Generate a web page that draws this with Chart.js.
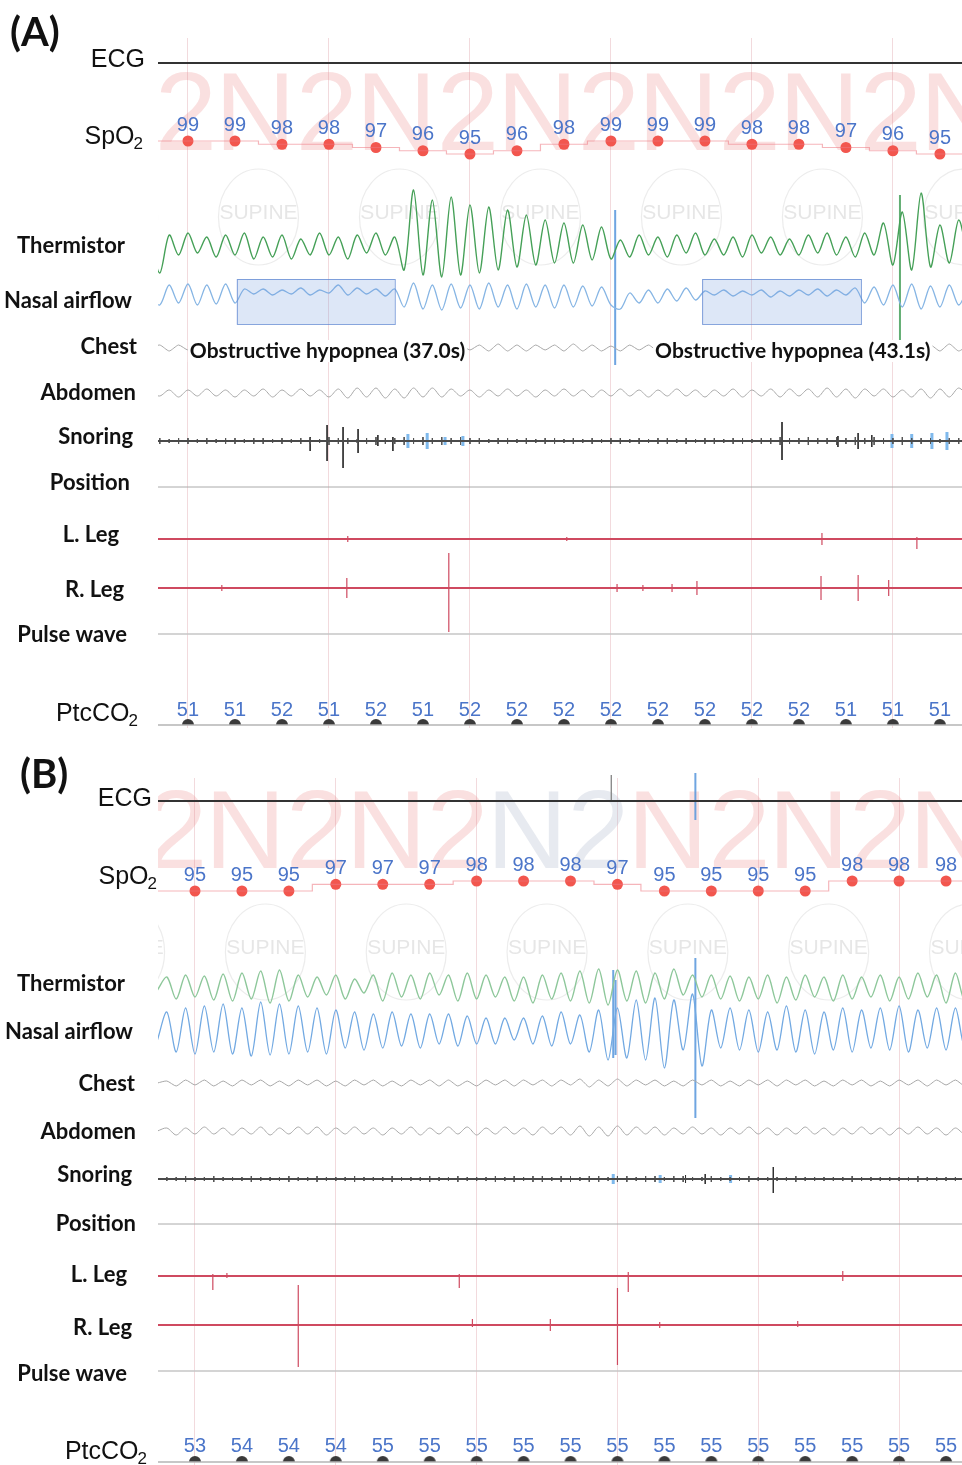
<!DOCTYPE html>
<html>
<head>
<meta charset="utf-8">
<script src="https://cdn.jsdelivr.net/npm/chart.js@4.4.1/dist/chart.umd.min.js"></script>
<style>
  body { margin: 0; background: #fff; }
  #page { position: relative; width: 962px; height: 1465px; overflow: hidden; }
  .panel { position: absolute; left: 0; width: 962px; }
  .tag { position: absolute; font: bold 40px Lato, sans-serif; color: #111; }
</style>
</head>
<body>
<div id="page">
  <div class="panel" style="top:0;height:740px"><canvas id="panelA"></canvas></div>
  <div class="panel" style="top:740px;height:725px"><canvas id="panelB"></canvas></div>
  <div class="tag" style="left:10px;top:7px">(A)</div>
  <div class="tag" style="left:20px;top:749px">(B)</div>
</div>
<script>
// traced channels are sampled every 2 s starting at -8 s
const SAMPLE_T0 = -8;
const SAMPLE_DT = 2;

const channelNames = ['ECG', 'SpO₂', 'Thermistor', 'Nasal airflow', 'Chest', 'Abdomen',
  'Snoring', 'Position', 'L. Leg', 'R. Leg', 'Pulse wave', 'PtcCO₂'];

// numeric readings every 10 s, sleep epochs every 30 s
const readingTimes = [0, 10, 20, 30, 40, 50, 60, 70, 80, 90, 100, 110, 120, 130, 140, 150, 160];
const epochStarts = [-30, 0, 30, 60, 90, 120, 150];

// ---- panel A ----
const spo2A = [99, 99, 98, 98, 97, 96, 95, 96, 98, 99, 99, 99, 98, 98, 97, 96, 95];
const ptcco2A = [51, 51, 52, 51, 52, 51, 52, 52, 52, 52, 52, 52, 52, 52, 51, 51, 51];
const stagesA = ['N2', 'N2', 'N2', 'N2', 'N2', 'N2', 'N2'];
const positionsA = ['SUPINE', 'SUPINE', 'SUPINE', 'SUPINE', 'SUPINE', 'SUPINE', 'SUPINE'];
const thermA = [5, -28, 10, -10, 12, -8, 8, -12, 10, -10,
  12, -14, 8, -12, 10, -14, 6, -10, 12, -10,
  8, -14, 10, -8, 12, -10, 8, -25, 55, -30,
  45, -32, 48, -30, 40, -28, 38, -25, 35, -22,
  30, -20, 25, -18, 22, -18, 20, -15, 18, -14,
  5, -12, 10, -10, 8, -12, 10, -8, 12, -10,
  6, -10, 8, -12, 10, -8, 8, -10, 6, -10,
  10, -8, 12, -10, 8, -12, 12, -10, 22, -20,
  33, -25, 52, -22, 20, -18, 25, -15];
const nasalA = [0, -8, 12, -6, 13, -8, 12, -7, 13, -6,
  8, 3, 8, 2, 7, 3, 9, 2, 7, 4,
  12, 2, 9, 3, 8, 1, 8, -10, 14, -12,
  12, -13, 13, -11, 12, -12, 14, -10, 12, -12,
  13, -10, 12, -11, 12, -10, 11, -9, 10, -8,
  -12, 4, -6, 7, -6, 8, -4, 9, -3, 6,
  2, 7, 1, 6, 2, 7, 0, 6, 1, 7,
  2, 8, 1, 7, 2, 9, -6, 10, -8, 12,
  -10, 13, -12, 11, -10, 12, -8, 10];
const chestA = [0, 3, -3, 3, -2, 3, -3, 4, -3, 3,
  -3, 3, -2, 4, -3, 3, -3, 3, -3, 4,
  -2, 3, -3, 3, -4, 3, -3, 4, -3, 3,
  -3, 4, -3, 3, -2, 3, -3, 4, -3, 3,
  -3, 3, -2, 3, -3, 4, -3, 3, -3, 2,
  -3, 3, -2, 3, -3, 4, -3, 3, -2, 3,
  -3, 3, -3, 4, -3, 3, -3, 3, -2, 4,
  -3, 3, -3, 3, -3, 4, -2, 3, -3, 3,
  -3, 4, -3, 3, -3, 4, -3, 3];
const abdomenA = [0, -3, 3, -4, 3, -3, 4, -3, 3, -4,
  3, -3, 4, -4, 3, -3, 4, -3, 3, -4,
  4, -5, 5, -4, 5, -5, 4, -5, 5, -4,
  5, -4, 4, -3, 3, -4, 3, -3, 4, -3,
  3, -4, 3, -3, 4, -3, 3, -4, 3, -3,
  4, -3, 3, -4, 3, -3, 4, -3, 3, -4,
  3, -3, 4, -4, 3, -3, 4, -4, 4, -3,
  4, -4, 5, -4, 4, -5, 4, -3, 4, -4,
  3, -4, 4, -5, 4, -4, 5, -4];
const snoreA = [2, 3, 2, 3, 3, 2, 3, 2, 3, 3,
  2, 3, 3, 2, 3, 2, 3, 3, 2, 4,
  3, 3, 2, 3, 4, 3, 3, 4, 3, 4,
  3, 4, 3, 4, 3, 3, 2, 3, 3, 2,
  3, 2, 3, 3, 2, 3, 2, 3, 2, 3,
  3, 2, 3, 2, 3, 3, 2, 3, 2, 3,
  3, 2, 3, 3, 2, 3, 3, 4, 3, 3,
  4, 3, 3, 4, 3, 4, 3, 4, 3, 3,
  4, 3, 3, 3, 2, 3, 3, 2];
const snoreBigA = { t: [26.0, 29.6, 33.0, 36.2, 40.4, 43.6, 126.4, 138.3, 142.6, 145.5],
  up: [4, 16, 14, 12, 6, 4, 19, 5, 8, 6], down: [10, 20, 27, 12, 5, 10, 19, 6, 8, 6] };
const snoreBlueA = { t: [46.8, 50.9, 54.7, 58.5, 149.8, 154.0, 158.3, 161.5],
  up: [7, 8, 4, 5, 7, 7, 8, 9], down: [7, 8, 4, 5, 7, 7, 8, 9] };
const lLegA = { t: [34.0, 80.6, 134.9, 155.1], up: [3, 2, 6, 2], down: [3, 2, 6, 10] };
const rLegA = { t: [7.2, 33.8, 55.5, 91.3, 96.8, 103.0, 108.3, 134.7, 142.6, 149.1],
  up: [3, 10, 35, 4, 3, 4, 7, 12, 13, 8], down: [3, 10, 44, 4, 3, 4, 7, 12, 13, 8] };
const artifactsA = [
  { channel: 3, tone: 'blue', t: [90.9], up: [87], down: [68] },
  { channel: 2, tone: 'green', t: [151.5], up: [50], down: [115] }
];
const hypopneaStartA = [10.4, 109.4];
const hypopneaEndA = [44.0, 143.2];
const hypopneaTextA = ['Obstructive hypopnea (37.0s)', 'Obstructive hypopnea (43.1s)'];

// ---- panel B ----
const spo2B = [95, 95, 95, 97, 97, 97, 98, 98, 98, 97, 95, 95, 95, 95, 98, 98, 98];
const ptcco2B = [53, 54, 54, 54, 55, 55, 55, 55, 55, 55, 55, 55, 55, 55, 55, 55, 55];
const stagesB = ['N2', 'N2', 'N2', 'N2', 'N2', 'N2', 'N2'];
const positionsB = ['SUPINE', 'SUPINE', 'SUPINE', 'SUPINE', 'SUPINE', 'SUPINE', 'SUPINE'];
const thermB = [-5, 8, -14, 10, -12, 9, -15, 11, -16, 12,
  -14, 14, -18, 15, -16, 10, -12, 8, -10, 10,
  -14, 6, -8, 10, -16, 12, -12, 10, -14, 12,
  -10, 10, -16, 12, -14, 10, -12, 8, -16, 8,
  -18, 10, -14, 12, -16, 14, -18, 16, -20, 15,
  -16, 14, -18, 12, -14, 16, -10, 10, -12, 10,
  -14, 9, -16, 8, -14, 10, -18, 8, -15, 10,
  -12, 8, -16, 10, -14, 8, -12, 10, -16, 8,
  -14, 12, -12, 10, -18, 12, -16, 10];
const nasalB = [-10, 18, -22, 22, -24, 24, -22, 26, -24, 22,
  -26, 28, -25, 26, -24, 24, -22, 22, -24, 20,
  -18, 18, -20, 16, -18, 18, -16, 16, -18, 16,
  -14, 16, -16, 14, -14, 12, -14, 12, -10, 12,
  -14, 14, -16, 18, -14, 15, -22, 20, -30, 22,
  -28, 30, -30, 32, -38, 30, -20, 36, -36, 20,
  -18, 22, -20, 20, -22, 18, -20, 24, -22, 20,
  -24, 18, -20, 22, -22, 20, -18, 22, -20, 24,
  -22, 20, -18, 22, -20, 22, -18, 20];
const chestB = [0, 2, -3, 3, -2, 3, -3, 2, -3, 3,
  -2, 3, -3, 2, -3, 3, -2, 3, -3, 2,
  -3, 3, -2, 3, -3, 2, -3, 3, -2, 3,
  -3, 3, -3, 2, -3, 3, -2, 3, -3, 3,
  -2, 3, -3, 3, -2, 4, -4, 3, -3, 4,
  -3, 3, -2, 3, -3, 2, -3, 3, -2, 3,
  -3, 2, -3, 3, -2, 3, -3, 3, -2, 3,
  -3, 2, -3, 3, -2, 3, -3, 2, -3, 3,
  -2, 3, -3, 3, -2, 3, -3, 2];
const abdomenB = [0, 3, -4, 3, -3, 4, -3, 3, -4, 3,
  -3, 4, -4, 3, -3, 4, -3, 4, -4, 3,
  -3, 4, -3, 3, -4, 3, -3, 4, -4, 3,
  -3, 4, -3, 4, -4, 3, -3, 4, -3, 3,
  -4, 4, -3, 4, -4, 5, -5, 4, -5, 5,
  -4, 4, -3, 4, -4, 3, -3, 4, -3, 3,
  -4, 3, -3, 4, -3, 3, -4, 3, -3, 4,
  -3, 3, -4, 3, -3, 4, -3, 3, -4, 3,
  -3, 4, -3, 3, -4, 3, -3, 4];
const snoreB = [2, 2, 2, 3, 2, 2, 3, 2, 2, 2,
  3, 2, 2, 2, 3, 2, 2, 3, 2, 2,
  2, 3, 2, 2, 2, 3, 2, 2, 2, 3,
  2, 2, 3, 2, 2, 2, 3, 2, 3, 2,
  3, 3, 2, 3, 3, 2, 3, 3, 2, 3,
  3, 2, 3, 3, 2, 3, 3, 2, 2, 3,
  2, 2, 2, 3, 2, 2, 2, 2, 3, 2,
  2, 2, 2, 2, 3, 2, 2, 2, 2, 2,
  2, 3, 2, 2, 2, 2, 2, 2];
const snoreBigB = { t: [104.5, 108.7, 123.2], up: [4, 5, 12], down: [4, 5, 14] };
const snoreBlueB = { t: [89.1, 99.1, 114.1], up: [5, 4, 4], down: [5, 4, 4] };
const lLegB = { t: [3.8, 6.8, 56.3, 92.3, 138.0], up: [2, 3, 2, 4, 5], down: [14, 2, 12, 16, 5] };
const rLegB = { t: [22.0, 59.1, 75.7, 90.0, 99.0, 128.4], up: [40, 6, 6, 37, 3, 4], down: [42, 2, 6, 40, 3, 2] };
const artifactsB = [
  { channel: 0, tone: 'gray', t: [88.7], up: [26], down: [0] },
  { channel: 0, tone: 'blue', t: [106.6], up: [28], down: [19] },
  { channel: 3, tone: 'blue', t: [89.1, 89.6], up: [60, 50], down: [28, 25] },
  { channel: 3, tone: 'blue', t: [106.6], up: [72], down: [88] }
];

// ---- layout / style per panel ----
const layoutA = {
  xMin: -6.38, xMax: 164.7, padTop: 38, padBottom: 12,
  bandHeight: [57, 77, 100, 50, 48, 47, 47, 48, 51, 48, 59, 58],
  bandRange: [[-32, 25], [89.46, 113.15], [-27, 73], [-25, 25], [-22, 26], [-24, 23],
    [-23, 24], [-25, 23], [-24, 27], [-23, 25], [-36, 23], [-3, 55]],
  labelAt: [3, 100.2, -1, -4, 1, 0, 4, 4, 4, -2, -1, 11],
  labelRight: [145, 143, 125, 132, 137, 136, 133, 130, 119, 124, 127, 138],
  ptcTextAt: 15, stageOffset: 5.7, stageBaseline: 150, supineY: 213,
  stageColors: ['p', 'p', 'p', 'p', 'p', 'p', 'p'],
  thermColor: '#45a057', nasalColor: '#86b5e4'
};
const layoutB = {
  xMin: -7.88, xMax: 163.4, padTop: 38, padBottom: 0,
  bandHeight: [57, 80, 95, 48, 50, 47, 47, 48, 50, 48, 57, 60],
  bandRange: [[-34, 23], [87.8, 111.8], [-25, 70], [-28, 20], [-25, 25], [-24, 23],
    [-23, 24], [-26, 22], [-24, 26], [-23, 25], [-34, 23], [-3, 57]],
  labelAt: [2, 99.2, 1, -2, -1, -1, 4, 0, 1, -3, -3, 10],
  labelRight: [152, 157, 125, 133, 135, 136, 132, 136, 127, 132, 127, 147],
  ptcTextAt: 16, stageOffset: 2.1, stageBaseline: 128, supineY: 208,
  stageColors: ['p', 'p', 'p', 'g', 'p', 'p', 'p'],
  thermColor: '#8dc79a', nasalColor: '#72a9e2'
};

const CLIP = { left: 0, right: 0, top: false, bottom: false };
const toneColor = { blue: 'rgba(95,155,222,0.9)', gray: '#8c8c8c', green: 'rgba(70,160,90,0.85)' };
const arialIdx = [0, 1, 11];

function domeMarker(r, color) {
  const c = document.createElement('canvas');
  c.width = 2 * r + 2; c.height = 2 * r + 2;
  const g = c.getContext('2d');
  g.fillStyle = color;
  g.beginPath();
  g.arc(r + 1, r + 1, r, Math.PI, 0);
  g.closePath();
  g.fill();
  return c;
}
const dome = domeMarker(6, '#3a3a3a');

function samples(values) {
  return values.map((v, k) => ({ x: SAMPLE_T0 + k * SAMPLE_DT, y: v }));
}
function spikes(ev) {
  const pts = [];
  ev.t.forEach((t, i) => {
    pts.push({ x: t, y: ev.up[i] }, { x: t, y: -ev.down[i] }, { x: t, y: null });
  });
  return pts;
}
function level(P) {
  return [{ x: P.xMin - 2, y: 0 }, { x: P.xMax + 2, y: 0 }];
}
function readingTrace(P, values) {
  const pts = readingTimes.map((t, i) => ({ x: t, y: values[i] }));
  return [{ x: P.xMin - 2, y: values[0] }].concat(pts, [{ x: P.xMax + 2, y: values[values.length - 1] }]);
}
function trace(ch, data, color, width, extra) {
  return Object.assign({
    type: 'line', xAxisID: 'x', yAxisID: 'y' + ch, data: data,
    borderColor: color, borderWidth: width, pointRadius: 0, tension: 0,
    fill: false, spanGaps: false, clip: CLIP
  }, extra || {});
}

function panelDatasets(P, D) {
  const snoreBursts = {
    t: D.snore.map((_, k) => SAMPLE_T0 + k * SAMPLE_DT),
    up: D.snore, down: D.snore
  };
  const ds = [
    trace(0, level(P), '#333', 1.8),
    trace(1, readingTrace(P, D.spo2), 'rgba(236,120,130,0.55)', 1.2, { stepped: 'middle' }),
    trace(1, readingTimes.map((t, i) => ({ x: t, y: D.spo2[i] })), 'transparent', 0, {
      showLine: false, pointRadius: 5.5, pointBackgroundColor: '#f2564e', pointBorderWidth: 0,
      valueText: D.spo2, valueDy: -16
    }),
    trace(2, samples(D.therm), P.thermColor, 1.4, { tension: 0.3 }),
    trace(3, samples(D.nasal), P.nasalColor, 1.3, { tension: 0.3 }),
    trace(4, samples(D.chest), '#a8a8a8', 1, { tension: 0.2 }),
    trace(5, samples(D.abdomen), '#a8a8a8', 1, { tension: 0.3 }),
    trace(6, level(P), '#4a4a4a', 2),
    trace(6, spikes(snoreBursts), '#555', 1),
    trace(6, spikes(D.snoreBig), '#333', 1),
    trace(6, spikes(D.snoreBlue), '#7fb9ec', 3),
    trace(7, level(P), '#aaa', 1),
    trace(8, level(P), '#cf4a60', 2),
    trace(8, spikes(D.lLeg), '#cf4a60', 1.2),
    trace(9, level(P), '#cf4a60', 2),
    trace(9, spikes(D.rLeg), '#cf4a60', 1.2),
    trace(10, level(P), '#c6c6c6', 1.6),
    trace(11, level(P), '#b4b4b4', 1.5),
    trace(11, readingTimes.map(t => ({ x: t, y: 0 })), 'transparent', 0, {
      showLine: false, pointStyle: dome, pointRadius: 6, valueText: D.ptc, valueAt: P.ptcTextAt
    })
  ];
  D.artifacts.forEach(a => {
    ds.push(trace(a.channel, spikes(a), toneColor[a.tone], a.tone === 'gray' ? 1 : 2));
  });
  return ds;
}

function drawChannelLabel(ctx, name, right, y, arial) {
  ctx.textBaseline = 'middle';
  ctx.fillStyle = '#111';
  if (!arial) {
    ctx.font = 'bold 22px Lato, sans-serif';
    ctx.textAlign = 'right';
    ctx.fillText(name, right, y);
    return;
  }
  const main = name.replace('₂', '');
  const hasSub = main !== name;
  ctx.font = '25px "Liberation Sans", Arial, sans-serif';
  const w1 = ctx.measureText(main).width;
  ctx.font = '17px "Liberation Sans", Arial, sans-serif';
  const w2 = hasSub ? ctx.measureText('2').width : 0;
  const x0 = right - w1 - w2 + (hasSub ? 1 : 0);
  ctx.textAlign = 'left';
  ctx.font = '25px "Liberation Sans", Arial, sans-serif';
  ctx.fillText(main, x0, y);
  if (hasSub) {
    ctx.font = '17px "Liberation Sans", Arial, sans-serif';
    ctx.fillText('2', x0 + w1 - 1, y + 7);
  }
}

function panelPlugins(P, D) {
  return [{
    id: 'backdrop',
    beforeDatasetsDraw(chart) {
      const ctx = chart.ctx, xs = chart.scales.x, area = chart.chartArea;
      ctx.save();
      ctx.beginPath();
      ctx.rect(area.left, 0, area.right - area.left, chart.height);
      ctx.clip();
      ctx.textAlign = 'left';
      ctx.textBaseline = 'alphabetic';
      ctx.font = '112px "Liberation Sans", Arial, sans-serif';
      epochStarts.forEach((t0, i) => {
        ctx.fillStyle = P.stageColors[i] === 'g' ? 'rgba(175,185,205,0.3)' : 'rgba(238,140,140,0.27)';
        ctx.fillText(D.stages[i], xs.getPixelForValue(t0 + P.stageOffset), P.stageBaseline);
      });
      ctx.font = '21px "Liberation Sans", Arial, sans-serif';
      ctx.textAlign = 'center';
      ctx.textBaseline = 'middle';
      epochStarts.forEach((t0, i) => {
        const cx = xs.getPixelForValue(t0 + 15);
        ctx.strokeStyle = 'rgba(150,150,150,0.18)';
        ctx.lineWidth = 1.2;
        ctx.beginPath();
        ctx.ellipse(cx, P.supineY + 4, 40, 48, 0, 0, Math.PI * 2);
        ctx.stroke();
        ctx.fillStyle = 'rgba(150,150,150,0.24)';
        ctx.fillText(D.positions[i], cx, P.supineY);
      });
      ctx.restore();
    },
    afterDatasetsDraw(chart) {
      const ctx = chart.ctx, xs = chart.scales.x;
      ctx.save();
      // hypopnea annotations
      const nasal = chart.scales.y3, chest = chart.scales.y4;
      (D.hypStart || []).forEach((t0, i) => {
        const x0 = xs.getPixelForValue(t0), x1 = xs.getPixelForValue(D.hypEnd[i]);
        const top = nasal.top + 7, bot = nasal.bottom + 2;
        ctx.fillStyle = 'rgba(120,160,225,0.25)';
        ctx.fillRect(x0, top, x1 - x0, bot - top);
        ctx.strokeStyle = 'rgba(95,135,210,0.75)';
        ctx.lineWidth = 1;
        ctx.strokeRect(x0 + 0.5, top + 0.5, x1 - x0, bot - top);
        ctx.font = 'bold 21px Lato, sans-serif';
        const ty = chest.getPixelForValue(-3);
        const tx = x0 - 47;
        const w = ctx.measureText(D.hypText[i]).width;
        ctx.fillStyle = '#fff';
        ctx.fillRect(tx - 2, ty - 11, w + 4, 22);
        ctx.fillStyle = '#111';
        ctx.textAlign = 'left';
        ctx.textBaseline = 'middle';
        ctx.fillText(D.hypText[i], tx, ty);
      });
      // numeric readings above markers
      ctx.font = '20px "Liberation Sans", Arial, sans-serif';
      ctx.fillStyle = '#4b75c9';
      ctx.textAlign = 'center';
      ctx.textBaseline = 'middle';
      chart.data.datasets.forEach((ds, i) => {
        if (!ds.valueText) return;
        const meta = chart.getDatasetMeta(i);
        const ys = chart.scales[ds.yAxisID];
        meta.data.forEach((pt, j) => {
          const y = ds.valueAt !== undefined ? ys.getPixelForValue(ds.valueAt) : pt.y + ds.valueDy;
          ctx.fillText(String(ds.valueText[j]), pt.x, y);
        });
      });
      ctx.restore();
    },
    afterDraw(chart) {
      const ctx = chart.ctx;
      ctx.save();
      channelNames.forEach((name, i) => {
        const y = chart.scales['y' + i].getPixelForValue(P.labelAt[i]);
        drawChannelLabel(ctx, name, P.labelRight[i], y, arialIdx.includes(i));
      });
      ctx.restore();
    }
  }];
}

function buildPanel(id, P, D) {
  const scales = {
    x: {
      type: 'linear', min: P.xMin, max: P.xMax, offset: false,
      afterBuildTicks: s => { s.ticks = epochStarts.filter(t => t > P.xMin && t < P.xMax).map(v => ({ value: v })); },
      ticks: { display: false },
      grid: { color: 'rgba(226,172,180,0.45)', lineWidth: 1, drawTicks: false },
      border: { display: false }
    }
  };
  channelNames.forEach((name, i) => {
    scales['y' + i] = {
      type: 'linear', display: false, position: 'left', stack: 'rows',
      stackWeight: P.bandHeight[i], weight: 50 - i, offset: false,
      min: P.bandRange[i][0], max: P.bandRange[i][1]
    };
  });
  return new Chart(document.getElementById(id), {
    type: 'line',
    data: { datasets: panelDatasets(P, D) },
    options: {
      responsive: true,
      maintainAspectRatio: false,
      animation: false,
      events: [],
      devicePixelRatio: 1,
      layout: { autoPadding: false, padding: { top: P.padTop, bottom: P.padBottom, left: 158, right: 0 } },
      scales: scales,
      plugins: { legend: { display: false }, tooltip: { enabled: false } }
    },
    plugins: panelPlugins(P, D)
  });
}

buildPanel('panelA', layoutA, {
  spo2: spo2A, ptc: ptcco2A, stages: stagesA, positions: positionsA,
  therm: thermA, nasal: nasalA, chest: chestA, abdomen: abdomenA, snore: snoreA,
  snoreBig: snoreBigA, snoreBlue: snoreBlueA, lLeg: lLegA, rLeg: rLegA, artifacts: artifactsA,
  hypStart: hypopneaStartA, hypEnd: hypopneaEndA, hypText: hypopneaTextA
});
buildPanel('panelB', layoutB, {
  spo2: spo2B, ptc: ptcco2B, stages: stagesB, positions: positionsB,
  therm: thermB, nasal: nasalB, chest: chestB, abdomen: abdomenB, snore: snoreB,
  snoreBig: snoreBigB, snoreBlue: snoreBlueB, lLeg: lLegB, rLeg: rLegB, artifacts: artifactsB
});
</script>
</body>
</html>
